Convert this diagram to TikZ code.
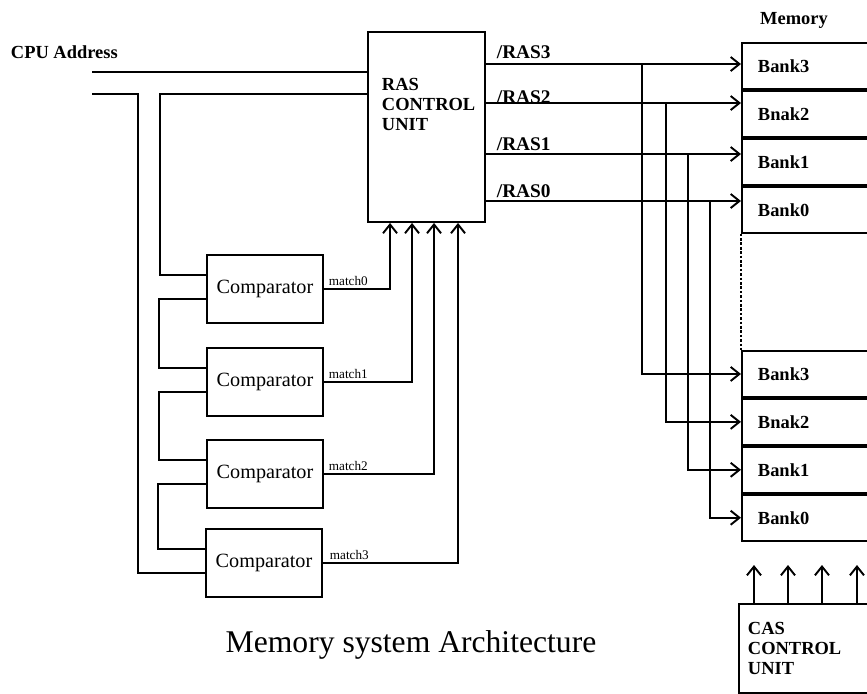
\documentclass[tikz,border=0pt]{standalone}
\usepackage{fontspec}
\setmainfont{Liberation Serif}
\usetikzlibrary{arrows.meta}

\begin{document}
\begin{tikzpicture}[
        x=0.02cm, y=-0.02cm,
        line width=1.1pt,
        arr/.style={-{Straight Barb[length=5pt,width=8pt]}},
        box/.style={draw, line width=1.1pt, inner sep=0pt},
        comp/.style={box, minimum width=2.32cm, minimum height=1.36cm,
            font=\fontsize{11.5}{12}\selectfont},
        bank/.style={box, anchor=north west, minimum height=0.92cm,
            text width=2.6cm, inner xsep=0.32cm, align=left,
            font=\bfseries\fontsize{10.5}{12}\selectfont},
        lbl/.style={inner sep=0pt, font=\bfseries\fontsize{10.5}{11.5}\selectfont},
        sig/.style={inner sep=0pt, anchor=base west,
            font=\bfseries\fontsize{11}{12}\selectfont},
        mlbl/.style={inner sep=0pt, anchor=base west, font=\fontsize{7.5}{8}\selectfont}
    ]
        \useasboundingbox (0,0) rectangle (867,694);
        \clip (0,0) rectangle (867,694);

        % address input and RAS control
        \node[lbl, anchor=west] (cpu) at (10,52) {CPU Address};
        \node[box, minimum width=2.34cm, minimum height=3.8cm] (ras) at (426.5,127) {};
        \node[lbl, anchor=north west, align=left] (rastext) at (381,77)
            {RAS\\CONTROL\\UNIT};

        % comparators
        \node[comp] (comp0) at (265,289) {Comparator};
        \node[comp] (comp1) at (265,382) {Comparator};
        \node[comp] (comp2) at (265,474) {Comparator};
        \node[comp] (comp3) at (264,563) {Comparator};

        % memory banks
        \node[lbl] (mem) at (794,20) {Memory};
        \node[bank] (bank3) at (741,42) {Bank3};
        \node[bank] (bank2) at (bank3.south west) {Bnak2};
        \node[bank] (bank1) at (bank2.south west) {Bank1};
        \node[bank] (bank0) at (bank1.south west) {Bank0};
        \node[bank] (bankb3) at (741,350) {Bank3};
        \node[bank] (bankb2) at (bankb3.south west) {Bnak2};
        \node[bank] (bankb1) at (bankb2.south west) {Bank1};
        \node[bank] (bankb0) at (bankb1.south west) {Bank0};
        \draw[dash pattern=on 1.5pt off 1pt, line width=0.9pt]
            (bank0.south west) -- (bankb3.north west);

        % CAS control
        \node[box, anchor=north west, minimum width=3.2cm, minimum height=1.78cm]
            (cas) at (738,603) {};
        \node[lbl, anchor=north west, align=left] (castext) at (747,621)
            {CAS\\CONTROL\\UNIT};

        \node[font=\fontsize{18}{20}\selectfont, inner sep=0pt] (title) at (411,645)
            {Memory system Architecture};

        % address lines
        \coordinate (cpu1) at (92,72);
        \coordinate (cpu2) at (92,94);
        \draw (cpu1) -- (cpu1 -| ras.west);
        \draw (cpu2) -- ++(46,0) |- ([yshift=-0.2cm]comp3.west);
        \draw ([yshift=0.28cm]comp0.west) -- ++(-46,0) |- (cpu2 -| ras.west);
        \draw ([yshift=-0.2cm]comp0.west) -- ++(-47,0) |- ([yshift=0.28cm]comp1.west);
        \draw ([yshift=-0.2cm]comp1.west) -- ++(-47,0) |- ([yshift=0.28cm]comp2.west);
        \draw ([yshift=-0.2cm]comp2.west) -- ++(-48,0) |- ([yshift=0.28cm]comp3.west);

        % match signals
        \draw[arr] (comp0.east) -| ([xshift=0.46cm]ras.south west);
        \draw[arr] (comp1.east) -| ([xshift=0.9cm]ras.south west);
        \draw[arr] (comp2.east) -| ([xshift=1.34cm]ras.south west);
        \draw[arr] (comp3.east) -| ([xshift=1.82cm]ras.south west);
        \node[mlbl] (m0) at ([xshift=0.08cm,yshift=0.08cm]comp0.east) {match0};
        \node[mlbl] (m1) at ([xshift=0.08cm,yshift=0.08cm]comp1.east) {match1};
        \node[mlbl] (m2) at ([xshift=0.08cm,yshift=0.08cm]comp2.east) {match2};
        \node[mlbl] (m3) at ([xshift=0.12cm,yshift=0.08cm]comp3.east) {match3};

        % RAS lines
        \coordinate (r3) at (600,64);
        \coordinate (r2) at (600,103);
        \coordinate (r1) at (600,154);
        \coordinate (r0) at (600,201);
        \draw[arr] (ras.east |- r3) -- (bank3.west |- r3);
        \draw[arr] (ras.east |- r2) -- (bank2.west |- r2);
        \draw[arr] (ras.east |- r1) -- (bank1.west |- r1);
        \draw[arr] (ras.east |- r0) -- (bank0.west |- r0);
        \node[sig] (ras3) at ([xshift=0.2cm,yshift=0.12cm]ras.east |- r3) {/RAS3};
        \node[sig] (ras2) at ([xshift=0.2cm]ras.east |- r2) {/RAS2};
        \node[sig] (ras1) at ([xshift=0.2cm,yshift=0.08cm]ras.east |- r1) {/RAS1};
        \node[sig] (ras0) at ([xshift=0.2cm,yshift=0.08cm]ras.east |- r0) {/RAS0};

        \coordinate (c3) at (642,0);
        \coordinate (c2) at (666,0);
        \coordinate (c1) at (688,0);
        \coordinate (c0) at (710,0);
        \draw[arr] (r3 -| c3) |- (bankb3.west);
        \draw[arr] (r2 -| c2) |- (bankb2.west);
        \draw[arr] (r1 -| c1) |- (bankb1.west);
        \draw[arr] (r0 -| c0) |- (bankb0.west);

        % CAS lines
        \draw[arr] ([xshift=0.32cm]cas.north west) -- ++(0,-38);
        \draw[arr] ([xshift=1.0cm]cas.north west) -- ++(0,-38);
        \draw[arr] ([xshift=1.68cm]cas.north west) -- ++(0,-38);
        \draw[arr] ([xshift=2.38cm]cas.north west) -- ++(0,-38);
    \end{tikzpicture}
\end{document}
